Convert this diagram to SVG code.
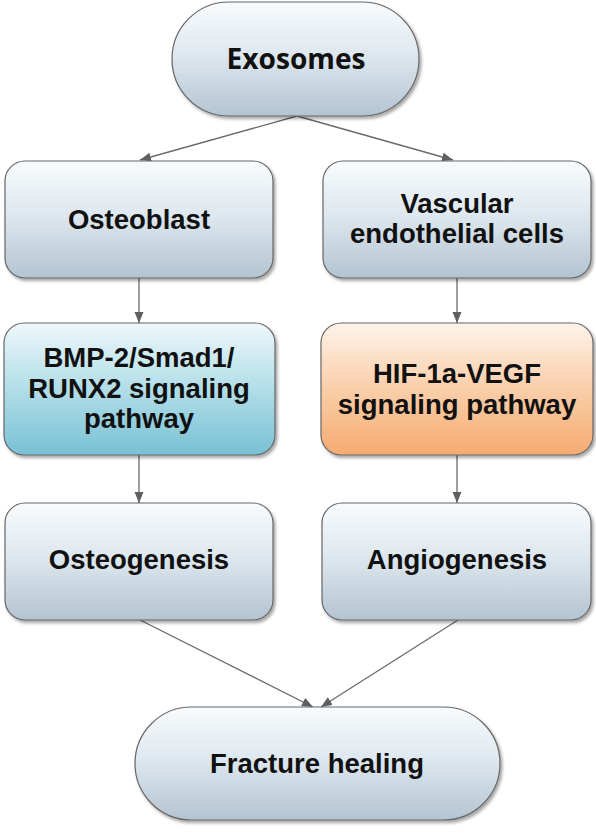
<svg xmlns="http://www.w3.org/2000/svg" width="596" height="835" viewBox="0 0 596 835">
<defs>
<linearGradient id="gBlue" x1="0" y1="0" x2="0" y2="1">
<stop offset="0" stop-color="#f8fbfd"/>
<stop offset="0.45" stop-color="#dfe8ef"/>
<stop offset="1" stop-color="#b3c4d1"/>
</linearGradient>
<linearGradient id="gTeal" x1="0" y1="0" x2="0" y2="1">
<stop offset="0" stop-color="#eef8fb"/>
<stop offset="0.45" stop-color="#b8e0ea"/>
<stop offset="1" stop-color="#78c1d4"/>
</linearGradient>
<linearGradient id="gOrange" x1="0" y1="0" x2="0" y2="1">
<stop offset="0" stop-color="#fdf3ea"/>
<stop offset="0.45" stop-color="#fbd2b0"/>
<stop offset="1" stop-color="#f5ab70"/>
</linearGradient>
<filter id="sh" x="-10%" y="-10%" width="125%" height="130%">
<feDropShadow dx="2" dy="2.5" stdDeviation="1.5" flood-color="#000" flood-opacity="0.35"/>
</filter>
<marker id="arr" markerUnits="userSpaceOnUse" markerWidth="12" markerHeight="10" refX="11" refY="4.5" orient="auto">
<path d="M0,0 L11,4.5 L0,9 z" fill="#5f5f5f"/>
</marker>
</defs>
<style>
.box{stroke:#666;stroke-width:1.2;filter:url(#sh)}
.t{font-family:"Liberation Sans",Arial,sans-serif;font-weight:bold;font-size:27.5px;fill:#111;text-anchor:middle}
.ex{font-family:"Open Sans","Liberation Sans",sans-serif;font-weight:bold;font-size:28px;fill:#111;text-anchor:middle}
.c{stroke:#6a6a6a;stroke-width:1.3;fill:none;marker-end:url(#arr)}
</style>
<g id="connectors">
<line class="c" x1="297" y1="116" x2="140" y2="160"/>
<line class="c" x1="297" y1="116" x2="453" y2="160"/>
<line class="c" x1="139" y1="278" x2="139" y2="323"/>
<line class="c" x1="457" y1="278" x2="457" y2="323"/>
<line class="c" x1="139" y1="455" x2="139" y2="503"/>
<line class="c" x1="457" y1="455" x2="457" y2="503"/>
<line class="c" x1="140" y1="620" x2="313" y2="707"/>
<line class="c" x1="458" y1="620" x2="321" y2="707"/>
</g>
<g id="exosomes">
<rect class="box" x="172" y="2" width="247" height="114" rx="57" fill="url(#gBlue)"/>
<text class="ex" x="296" y="69" textLength="139" lengthAdjust="spacingAndGlyphs">Exosomes</text>
</g>
<g id="osteoblast">
<rect class="box" x="5" y="161" width="268" height="117" rx="20" fill="url(#gBlue)"/>
<text class="t" x="139" y="229">Osteoblast</text>
</g>
<g id="vascular">
<rect class="box" x="323" y="161" width="268" height="117" rx="20" fill="url(#gBlue)"/>
<text class="t" x="457" y="213">Vascular</text>
<text class="t" x="457" y="243">endothelial cells</text>
</g>
<g id="bmp">
<rect class="box" x="4" y="323" width="271" height="132" rx="20" fill="url(#gTeal)"/>
<text class="t" x="139" y="367">BMP-2/Smad1/</text>
<text class="t" x="139" y="398">RUNX2 signaling</text>
<text class="t" x="139" y="428">pathway</text>
</g>
<g id="hif">
<rect class="box" x="321" y="323" width="272" height="132" rx="20" fill="url(#gOrange)"/>
<text class="t" x="457" y="383">HIF-1a-VEGF</text>
<text class="t" x="457" y="414">signaling pathway</text>
</g>
<g id="osteogenesis">
<rect class="box" x="5" y="503" width="268" height="117" rx="20" fill="url(#gBlue)"/>
<text class="t" x="139" y="569">Osteogenesis</text>
</g>
<g id="angiogenesis">
<rect class="box" x="322" y="503" width="269" height="117" rx="20" fill="url(#gBlue)"/>
<text class="t" x="457" y="569">Angiogenesis</text>
</g>
<g id="fracture">
<rect class="box" x="135" y="707" width="365" height="113" rx="56.5" fill="url(#gBlue)"/>
<text class="t" x="317" y="773">Fracture healing</text>
</g>
</svg>
